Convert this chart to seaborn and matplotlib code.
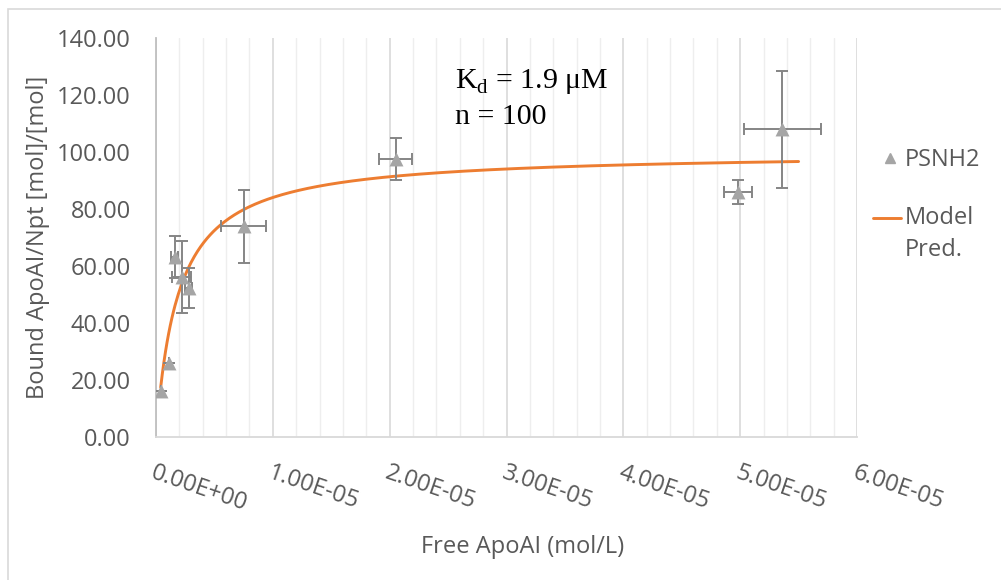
import numpy as np
import pandas as pd
import matplotlib
matplotlib.use("Agg")
import matplotlib.pyplot as plt
from matplotlib.ticker import MultipleLocator, FixedLocator
from matplotlib.lines import Line2D
import seaborn as sns

# ---- data ----
free_apoai = [0.4e-6, 1.1e-6, 1.6e-6, 2.2e-6, 2.8e-6, 7.5e-6, 20.5e-6, 49.8e-6, 53.6e-6]
bound = [16.0, 26.0, 63.2, 56.2, 52.2, 74.0, 97.5, 86.1, 107.9]
x_err = [0.0, 0.0, 0.3e-6, 0.8e-6, 0.3e-6, 1.9e-6, 1.4e-6, 1.2e-6, 3.3e-6]
y_err = [0.0, 0.0, 7.5, 12.6, 7.0, 12.8, 7.3, 4.2, 20.6]

Kd = 1.9e-6
n_sites = 100
model_x_start, model_x_end = 0.4e-6, 5.5e-5

x_ticks = [0, 1e-5, 2e-5, 3e-5, 4e-5, 5e-5, 6e-5]
x_tick_labels = ["0.00E+00", "1.00E-05", "2.00E-05", "3.00E-05", "4.00E-05", "5.00E-05", "6.00E-05"]
y_ticks = [0, 20, 40, 60, 80, 100, 120, 140]
y_tick_labels = ["0.00", "20.00", "40.00", "60.00", "80.00", "100.00", "120.00", "140.00"]
legend_labels = ["PSNH2", "Model", "Pred."]

df = pd.DataFrame({"x": free_apoai, "y": bound})
mx = np.linspace(model_x_start, model_x_end, 400)
model = pd.DataFrame({"x": mx, "y": n_sites * mx / (Kd + mx)})

# ---- style ----
sns.set_style("white")
plt.rcParams["font.family"] = ["Open Sans", "DejaVu Sans"]
TXT = "#595959"
FS = 17

fig = plt.figure(figsize=(10.01, 5.80), dpi=100)
W, H = 1001, 580
ax = fig.add_axes([156 / W, 1 - 437 / H, (857 - 156) / W, (437 - 38) / H])

ax.set_xlim(0, 6e-5)
ax.set_ylim(0, 140)
ax.xaxis.set_major_locator(FixedLocator(x_ticks))
ax.xaxis.set_minor_locator(MultipleLocator(2e-6))
ax.grid(which="minor", axis="x", color="#EEEEEE", linewidth=1.0)
ax.grid(which="major", axis="x", color="#D9D9D9", linewidth=1.2)
ax.grid(False, axis="y")
ax.set_axisbelow(True)
for s in ["top", "right"]:
    ax.spines[s].set_visible(False)
ax.spines["left"].set_color("#BFBFBF")
ax.spines["left"].set_linewidth(1.3)
ax.spines["bottom"].set_color("#D9D9D9")
ax.spines["bottom"].set_linewidth(1.3)

# model curve
sns.lineplot(data=model, x="x", y="y", ax=ax, color="#ED7D31", linewidth=2.1,
             zorder=3, legend=False)

# error bars
ax.errorbar(free_apoai, bound, xerr=x_err, yerr=y_err, fmt="none",
            ecolor="#858585", elinewidth=1.4, capsize=4, capthick=1.4, zorder=4)

# data points
sns.scatterplot(data=df, x="x", y="y", ax=ax, marker="^", s=100, color="#A5A5A5",
                edgecolor="#A5A5A5", linewidth=0, zorder=5, legend=False)

ax.set_xlabel("")
ax.set_ylabel("")
ax.set_yticks(y_ticks)
ax.set_yticklabels(y_tick_labels)
ax.set_xticks(x_ticks)
ax.set_xticklabels(x_tick_labels)
ax.tick_params(axis="y", length=0, pad=18, labelsize=FS, labelcolor=TXT)
ax.tick_params(axis="x", which="both", length=0, pad=17, labelsize=FS, labelcolor=TXT)
for lab in ax.get_xticklabels():
    lab.set_rotation(-19)
    lab.set_rotation_mode("anchor")
    lab.set_ha("left")
    lab.set_va("top")

fig.text(523 / W, 1 - 547 / H, "Free ApoAI (mol/L)", ha="center", va="center",
         fontsize=FS, color=TXT)
fig.text(38 / W, 1 - 237 / H, "Bound ApoAI/Npt [mol]/[mol]", ha="center", va="center",
         rotation=90, fontsize=FS, color=TXT)

# annotation
fig.text(455 / W, 1 - 82 / H, r"K$_\mathregular{d}$ = 1.9 μM",
         ha="left", va="center", fontsize=21.5, color="#000000", family="Liberation Serif")
fig.text(455 / W, 1 - 117 / H, "n = 100",
         ha="left", va="center", fontsize=21.5, color="#000000", family="Liberation Serif")

# legend (drawn as figure artists)
fig.add_artist(Line2D([890 / W], [1 - 158 / H], marker="^", color="#A5A5A5",
                      linestyle="none", markersize=7, transform=fig.transFigure))
fig.add_artist(Line2D([873 / W, 901 / W], [1 - 218 / H, 1 - 218 / H], color="#ED7D31",
                      linewidth=2.1, transform=fig.transFigure))
fig.text(905 / W, 1 - 160 / H, legend_labels[0], ha="left", va="center", fontsize=FS, color=TXT)
fig.text(905 / W, 1 - 218 / H, legend_labels[1], ha="left", va="center", fontsize=FS, color=TXT)
fig.text(905 / W, 1 - 250 / H, legend_labels[2], ha="left", va="center", fontsize=FS, color=TXT)

# outer frame
fig.add_artist(plt.Rectangle((8 / W, -0.1), 1.2, 1 - 9 / H + 0.1, transform=fig.transFigure,
                             fill=False, edgecolor="#D9D9D9", linewidth=1.2))

fig.savefig("out.png", dpi=100)
